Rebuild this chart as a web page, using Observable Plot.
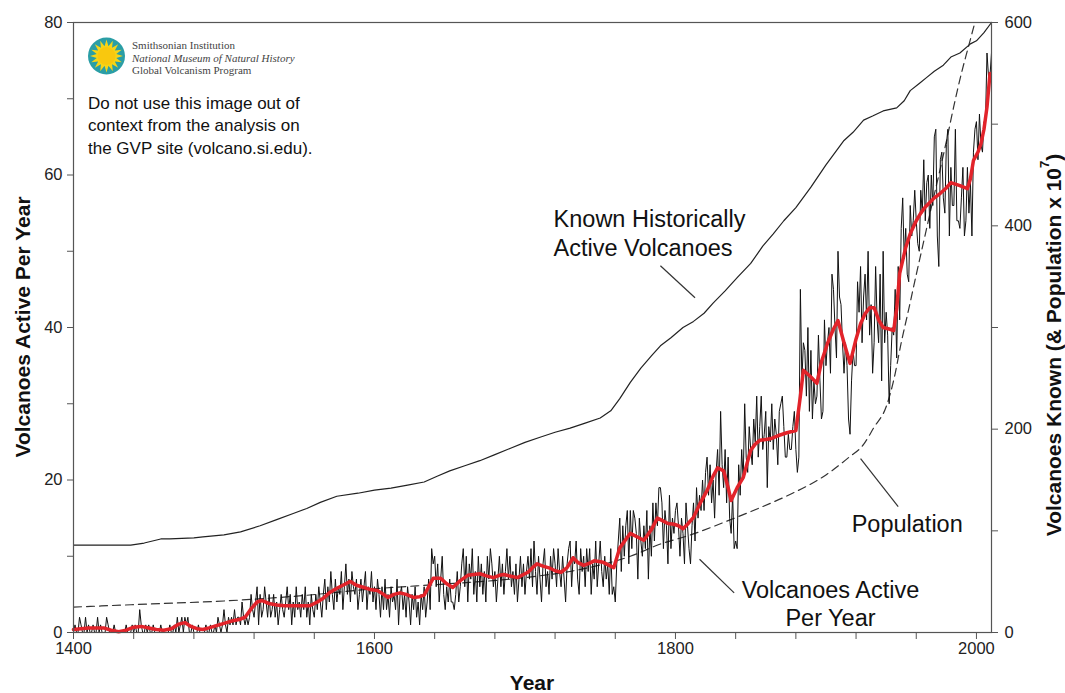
<!DOCTYPE html>
<html><head><meta charset="utf-8">
<script src="https://cdn.jsdelivr.net/npm/d3@7"></script>
<script src="https://cdn.jsdelivr.net/npm/@observablehq/plot@0.6"></script>
<style>
body{margin:0;background:#fff;}
#chart{width:1065px;height:693px;}
</style></head><body><div id="chart"></div>
<script>
// ---------- DATA ----------
const activeStartYear = 1400;
// Volcanoes active per year (annual counts), 1400..2010
const activePerYear = [
 0,1,0,0,2,1,0,0,2,0,  1,0,0,1,0,0,2,0,1,0,  0,0,2,1,0,0,0,1,0,0,  0,0,0,0,0,1,0,0,0,1,
 0,1,0,0,3,1,0,0,1,0,  1,0,0,1,0,0,0,0,1,0,  0,0,0,0,1,0,0,1,0,2,  0,1,2,0,2,1,2,0,0,1,
 0,0,0,1,0,0,0,0,1,0,  0,1,0,0,1,0,2,1,0,1,  3,1,0,2,1,2,1,3,1,2,  2,1,4,2,1,2,1,2,5,3,
 2,4,6,1,5,2,3,6,4,2,  5,2,3,5,2,4,1,3,5,3,  2,4,6,3,5,1,4,2,6,3,  4,2,5,3,6,2,4,1,5,3,
 2,5,3,6,4,2,5,7,3,6,  4,8,5,3,7,4,6,5,8,3,  6,9,5,7,4,8,6,5,7,3,  5,7,4,6,8,3,6,5,8,4,
 6,3,7,5,2,6,3,7,3,5,  2,6,4,5,3,7,1,5,6,3,  5,2,6,4,1,5,3,6,2,4,  1,5,3,6,2,4,7,3,11,9,
 10,6,9,4,7,10,5,3,6,4,  7,4,4,3,5,8,4,6,9,11,  6,10,4,9,7,11,5,8,4,10,  6,9,5,8,4,10,7,11,9,6,
 8,4,7,10,6,9,5,8,11,7,  10,6,8,5,9,4,7,10,6,9,  5,8,10,7,11,6,12,8,5,10,  7,4,9,11,6,8,5,10,7,11,
 9,6,11,8,6,10,7,4,9,11,  12,6,10,9,12,7,5,11,8,10,  6,11,8,11,5,9,7,12,6,9,  12,8,6,10,7,9,5,11,5,6,
 4,9,12,15,8,14,10,14,16,9,  16,11,16,15,13,7,15,12,10,14,  11,16,7,14,10,17,12,17,14,19,  19,17,11,16,14,9,18,11,15,13,
 16,17,14,10,15,13,9,17,14,11,  9,14,17,12,19,15,18,16,20,16,  21,23,18,22,17,20,15,21,24,18,  29,22,19,24,17,23,15,13,18,11,
 12,11,22,18,24,20,30,23,21,27,  24,22,28,25,31,23,27,31,24,26,  29,19,27,25,30,24,28,26,22,29,  30,31,27,23,23,26,24,24,27,29,
 24,21,23,45,33,38,37,31,40,29,  37,28,33,30,31,39,33,28,29,41,  35,38,40,34,47,45,40,36,50,44,  43,38,34,38,35,28,26,33,37,35,
 35,46,42,48,38,44,47,41,50,39,  43,34,38,48,41,38,47,33,50,38,  42,39,30,35,40,39,45,36,48,41,  53,57,49,53,47,46,56,52,54,58,
 54,51,50,58,55,62,54,59,60,53,  60,56,65,66,52,48,62,63,57,55,  64,66,52,61,56,56,66,54,54,53,  57,61,52,54,61,55,59,52,63,66,
 67,62,68,64,63,67,67,76,73,73,  76
];
// Smoothed (red) line: years and values (volcanoes active per year)
const smoothYears = [1400,1405,1410,1415,1420,1425,1430,1435,1440,1445,1450,1455,1460,1465,1470,1474,1478,1482,1486,1490,1495,1500,1505,1510,1514,1518,1522,1525,1530,1535,1540,1545,1550,1557,1562,1566,1570,1575,1580,1584,1588,1593,1598,1602,1606,1609,1613,1617,1621,1626,1630,1633,1636,1639,1644,1648,1652,1657,1662,1666,1670,1675,1679,1683,1686,1690,1695,1699,1702,1705,1708,1712,1717,1720,1724,1728,1732,1735,1739,1743,1746,1749,1752,1756,1759,1761,1763,1767,1770,1775,1779,1784,1788,1791,1795,1799,1802,1805,1808,1812,1816,1821,1825,1828,1832,1835,1837,1841,1845,1848,1850,1853,1856,1860,1863,1868,1874,1880,1883,1885,1890,1894,1897,1901,1905,1908,1912,1916,1920,1923,1926,1929,1932,1935,1938,1942,1945,1947,1949,1953,1956,1960,1963,1966,1969,1972,1976,1980,1983,1986,1989,1994,1996,1998,2001,2003,2005,2007,2009];
const smoothValues = [0.4,0.5,0.6,0.6,0.6,0.3,0.1,0.3,0.7,0.8,0.6,0.4,0.3,0.5,1.1,1.3,0.8,0.5,0.4,0.6,0.9,1.2,1.5,1.7,2.0,3.1,4.0,4.2,3.8,3.6,3.5,3.5,3.5,3.5,4.0,4.5,5.2,5.8,6.3,6.7,6.2,5.9,5.6,5.5,5.0,4.6,5.0,5.2,5.0,4.6,4.7,4.9,6.0,7.1,7.1,6.4,5.9,6.8,7.5,7.6,7.7,7.4,7.2,7.5,7.6,7.4,7.2,7.6,7.9,8.5,9.0,8.7,8.4,8.1,7.9,8.5,9.8,9.2,8.8,9.1,9.4,9.3,9.2,8.8,8.5,9.8,11.1,12.2,13.0,12.5,12.1,13.5,15.0,14.7,14.3,14.2,14.0,13.6,14.2,15.1,16.8,18.6,20.5,21.6,21.2,19.0,17.3,19.0,20.3,22.5,23.9,24.7,25.2,25.3,25.4,25.8,26.2,26.5,31.0,34.4,33.5,32.7,35.5,37.9,39.8,40.9,38.0,35.3,38.5,40.5,41.8,42.6,42.6,41.0,40.0,39.8,39.6,42.5,47.1,50.5,52.3,54.0,55.0,55.8,56.4,57.0,57.6,58.3,59.0,58.8,58.6,58.2,59.5,61.9,63.0,64.1,66.0,68.9,73.3];
// Known historically active volcanoes (cumulative, right axis units)
const knownYears = [1400,1438,1447,1458,1464,1480,1486,1500,1511,1524,1535,1546,1555,1564,1575,1589,1600,1611,1622,1633,1642,1650,1660,1670,1680,1690,1700,1710,1720,1730,1740,1750,1757,1763,1770,1777,1784,1790,1797,1805,1812,1819,1825,1833,1841,1850,1858,1865,1872,1880,1890,1900,1912,1918,1925,1931,1938,1947,1952,1956,1962,1967,1972,1978,1983,1989,1996,2000,2005,2010];
const knownValues = [86,86,88,92,92,93,94,96,99,105,111,117,122,128,134,137,140,142,145,148,154,159,164,169,175,181,187,192,197,201,206,211,218,230,246,260,272,282,290,300,306,314,324,336,349,363,380,392,405,418,438,460,484,492,504,508,513,516,523,533,540,546,552,558,566,570,579,582,590,600];
// World population (x 10^7, right axis units)
const popYears = [1400,1450,1500,1550,1600,1650,1700,1740,1770,1790,1810,1835,1855,1875,1900,1915,1925,1932,1940,1945,1950,1955,1960,1965,1970,1975,1980,1985,1990,1995,2000,2005,2010];
const popValues = [25,28,31,36,43,48,54,63,75,87,96,110,122,135,155,172,185,202,222,248,285,318,352,385,418,450,483,518,550,578,606,636,665];
// Axes
const xTickYears = [1400,1440,1480,1520,1560,1600,1640,1680,1720,1760,1800,1840,1880,1920,1960,2000];
const xLabelYears = [1400,1600,1800,2000];
const leftTicks = [0,20,40,60,80];
const leftMinorTicks = [10,30,50,70];
const rightTicks = [0,200,400,600];
const rightMinorTicks = [100,300,500];
const rightPerLeft = 7.5; // 600 on the right axis = 80 on the left axis
// Annotations
const notesLeft = [
  {year:1719, value:52.5, text:"Known Historically\nActive Volcanoes"}
];
const notesCentered = [
  {year:1954, value:14.4, text:"Population"},
  {year:1903, value:3.9, text:"Volcanoes Active\nPer Year"}
];
const leaders = [
  {x1:1790, y1:48.1, x2:1813, y2:43.9},
  {x1:1923, y1:22.8, x2:1948, y2:16.5},
  {x1:1816, y1:9.6, x2:1839, y2:5.2}
];

// ---------- CHART ----------
const FONT = "'Liberation Sans', Arial, Helvetica, sans-serif";
const active = activePerYear.map((v, i) => ({year: activeStartYear + i, v}));
const smooth = smoothYears.map((y, i) => ({year: y, v: smoothValues[i]}));
const known = knownYears.map((y, i) => ({year: y, v: knownValues[i] / rightPerLeft}));
const pop = popYears.map((y, i) => ({year: y, v: popValues[i] / rightPerLeft}));

const chart = Plot.plot({
  width: 1065, height: 693,
  marginLeft: 73, marginRight: 74, marginTop: 22, marginBottom: 61,
  x: {domain: [1400, 2010], label: null},
  y: {domain: [0, 80], label: null},
  style: {fontFamily: FONT, fontSize: "16.5px", color: "#222", background: "#fff", overflow: "visible"},
  marks: [
    Plot.line(pop, {x: "year", y: "v", stroke: "#333", strokeWidth: 1.2, strokeDasharray: "8,5", curve: "monotone-x", clip: true}),
    Plot.line(known, {x: "year", y: "v", stroke: "#222", strokeWidth: 1.2}),
    Plot.line(active, {x: "year", y: "v", stroke: "#111", strokeWidth: 1}),
    Plot.line(smooth, {x: "year", y: "v", stroke: "#e2232a", strokeWidth: 3.5}),
    Plot.link(leaders, {x1: "x1", y1: "y1", x2: "x2", y2: "y2", stroke: "#333", strokeWidth: 1.2}),
    Plot.text(notesLeft, {x: "year", y: "value", text: "text", textAnchor: "start", fontSize: 23.5, lineHeight: 1.22, fill: "#111", fontFamily: FONT}),
    Plot.text(notesCentered, {x: "year", y: "value", text: "text", textAnchor: "middle", fontSize: 23.5, lineHeight: 1.22, fill: "#111", fontFamily: FONT}),
    Plot.frame({stroke: "#555", strokeWidth: 1.2}),
    Plot.axisX({ticks: xTickYears, tickFormat: d => xLabelYears.includes(d) ? String(d) : "", tickSize: 7, tickPadding: 3, stroke: "#555"}),
    Plot.axisY({anchor: "left", ticks: leftTicks, tickSize: 6, tickPadding: 5, stroke: "#555"}),
    Plot.axisY({anchor: "left", ticks: leftMinorTicks, tickFormat: () => "", tickSize: 6, stroke: "#555"}),
    Plot.axisY({anchor: "right", ticks: rightTicks.map(d => d / rightPerLeft), tickFormat: d => String(Math.round(d * rightPerLeft)), tickSize: 6, tickPadding: 7, stroke: "#555"}),
    Plot.axisY({anchor: "right", ticks: rightMinorTicks.map(d => d / rightPerLeft), tickFormat: () => "", tickSize: 6, stroke: "#555"})
  ]
});
document.getElementById("chart").appendChild(chart);

// ---------- TITLES & DECORATIONS ----------
const svg = d3.select(chart);
svg.append("text").attr("transform", "translate(22,327) rotate(-90)")
  .attr("text-anchor", "middle").attr("dominant-baseline", "central")
  .style("font", `bold 21px ${FONT}`).attr("fill", "#111").text("Volcanoes Active Per Year");
svg.append("text").attr("x", 532).attr("y", 690)
  .attr("text-anchor", "middle")
  .style("font", `bold 21px ${FONT}`).attr("fill", "#111").text("Year");
const rt = svg.append("text").attr("transform", "translate(1053,345) rotate(-90)")
  .attr("text-anchor", "middle").attr("dominant-baseline", "central")
  .style("font", `bold 21px ${FONT}`).attr("fill", "#111");
rt.append("tspan").text("Volcanoes Known (& Population x 10");
rt.append("tspan").attr("dy", -9).style("font-size", "13px").text("7");
rt.append("tspan").attr("dy", 9).text(")");

// logo
const logo = svg.append("g").attr("transform", "translate(106.5,56)");
logo.append("circle").attr("r", 18.5).attr("fill", "#2a9ea6");
const pts = [];
for (let k = 0; k < 32; k++) {
  const a = k * Math.PI / 16;
  const r = k % 2 === 0 ? 16.5 : 10;
  pts.push([r * Math.cos(a), r * Math.sin(a)]);
}
logo.append("polygon").attr("points", pts.map(p => p.join(",")).join(" ")).attr("fill", "#f7d417");
logo.append("circle").attr("r", 9).attr("fill", "#f9c80e");

const serif = "'Liberation Serif', 'Times New Roman', serif";
[["Smithsonian Institution", "normal", 45], ["National Museum of Natural History", "italic", 57.5], ["Global Volcanism Program", "normal", 70]]
  .forEach(([t, st, y]) => svg.append("text").attr("x", 132).attr("y", y).attr("dominant-baseline", "central")
    .attr("text-anchor", "start")
    .style("font-family", serif).style("font-size", "11px").style("font-style", st).attr("fill", "#444").text(t));
["Do not use this image out of", "context from the analysis on", "the GVP site (volcano.si.edu)."]
  .forEach((t, i) => svg.append("text").attr("x", 88).attr("y", 103 + i * 22.5).attr("dominant-baseline", "central")
    .attr("text-anchor", "start")
    .style("font-family", FONT).style("font-size", "17px").attr("fill", "#111").text(t));
</script>
</body></html>
